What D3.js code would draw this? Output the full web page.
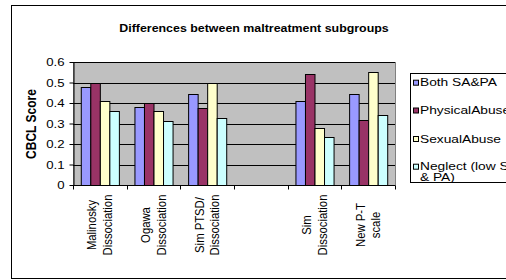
<!DOCTYPE html>
<html><head><meta charset="utf-8">
<script src="https://cdn.jsdelivr.net/npm/d3@7"></script>
<style>body{margin:0;background:#fff}svg{display:block}</style>
</head><body><svg id="c" width="506" height="280"></svg>
<script>
const categories = [["Malinosky","Dissociation"],["Ogawa","Dissociation"],["Sim PTSD/","Dissociation"],[],["Sim","Dissociation"],["New P-T","scale"]];
const catKeys = ["c0","c1","c2","c3","c4","c5"];
const seriesNames = ["Both SA&PA","PhysicalAbuse","SexualAbuse","Neglect (low SA & PA)"];
const bothSAPA = [0.477, 0.382, 0.444, null, 0.41, 0.444];
const physicalAbuse = [0.50, 0.40, 0.377, null, 0.541, 0.316];
const sexualAbuse = [0.408, 0.36, 0.499, null, 0.276, 0.55];
const neglect = [0.361, 0.31, 0.327, null, 0.233, 0.34];
const yTicks = [0, 0.1, 0.2, 0.3, 0.4, 0.5, 0.6];
const colors = ["#9999ff","#993366","#ffffcc","#ccffff"];
const series = [bothSAPA, physicalAbuse, sexualAbuse, neglect];

const svg = d3.select("#c");
const font = "'Liberation Sans', Arial, sans-serif";
const SX = 1.2;
svg.append("rect").attr("x",11.5).attr("y",5.5).attr("width",520).attr("height",273).attr("fill","#fff").attr("stroke","#000");

const L=73, R=395, T=62, B=185;
const x = d3.scaleBand().domain(catKeys).range([L,R]).paddingInner(0.29).paddingOuter(0.145);
const xs = d3.scaleBand().domain(d3.range(4)).range([0,x.bandwidth()]);
const y = d3.scaleLinear().domain([0,0.6]).range([B,T]);

svg.append("rect").attr("x",L+0.5).attr("y",T+0.5).attr("width",R-L).attr("height",B-T).attr("fill","#c0c0c0").attr("stroke","#808080");
svg.append("g").selectAll("line").data(yTicks.slice(1)).join("line")
  .attr("x1",L).attr("x2",R).attr("y1",d=>Math.round(y(d))+0.5).attr("y2",d=>Math.round(y(d))+0.5).attr("stroke","#000");

series.forEach((s,i)=>{
  svg.append("g").selectAll("rect").data(s.map((v,j)=>({v,k:catKeys[j]})).filter(d=>d.v!=null)).join("rect")
    .attr("x",d=>x(d.k)+xs(i)+0.5).attr("y",d=>Math.round(y(d.v))+0.5)
    .attr("width",xs.bandwidth()).attr("height",d=>B-Math.round(y(d.v)))
    .attr("fill",colors[i]).attr("stroke","#000").attr("stroke-width",1);
});

// y axis
const ya = svg.append("g").attr("transform",`translate(${L+0.5},0)`)
  .call(d3.axisLeft(y).tickValues(yTicks).tickFormat(d=>d===0?"0":d3.format(".1f")(d)).tickSize(4).tickSizeOuter(0));
ya.selectAll("text").attr("font-family",font).attr("font-size",11).attr("fill","#000")
  .attr("x",-9/SX).attr("transform",`scale(${SX},1)`);
ya.selectAll("path,line").attr("stroke","#000");

// x axis
const xBand = d3.scaleBand().domain(catKeys).range([L,R]);
const xa = svg.append("g").attr("transform",`translate(0,${B+0.5})`);
xa.append("line").attr("x1",L).attr("x2",R).attr("stroke","#000");
xa.selectAll("line.t").data(catKeys.concat(["end"])).join("line").attr("class","t")
  .attr("x1",d=>d==="end"?R+0.5:Math.round(xBand(d))+0.5).attr("x2",d=>d==="end"?R+0.5:Math.round(xBand(d))+0.5).attr("y1",0).attr("y2",4).attr("stroke","#000");

categories.forEach((lines,j)=>{
  const cx = xBand(catKeys[j]) + xBand.bandwidth()/2;
  const n = lines.length;
  lines.forEach((t,li)=>{
    const off = (li-(n-1)/2)*15.5;
    svg.append("text").attr("transform",`translate(${cx+off},225) scale(${SX},1) rotate(-90)`)
      .attr("text-anchor","middle").attr("dominant-baseline","central")
      .attr("font-family",font).attr("font-size",11.3).text(t);
  });
});

// title
svg.append("text").attr("transform","translate(254,32) scale(1.08,1)").attr("text-anchor","middle").attr("font-family",font)
  .attr("font-size",11.5).attr("font-weight","bold").text("Differences between maltreatment subgroups");
// y label
svg.append("text").attr("transform",`translate(36,124) scale(${SX},1) rotate(-90)`).attr("text-anchor","middle")
  .attr("font-family",font).attr("font-size",12).attr("font-weight","bold").text("CBCL Score");

// legend
svg.append("rect").attr("x",410.5).attr("y",73.5).attr("width",120).attr("height",109).attr("fill","#fff").attr("stroke","#000");
const legY = [82.7,110.5,139,166.7];
const legLines = [["Both SA&PA"],["PhysicalAbuse"],["SexualAbuse"],["Neglect (low SA","& PA)"]];
seriesNames.forEach((nm,i)=>{
  svg.append("rect").attr("x",413.5).attr("y",legY[i]-2.5).attr("width",5).attr("height",5).attr("fill",colors[i]).attr("stroke","#000");
  legLines[i].forEach((t,li)=>{
    svg.append("text").attr("transform",`translate(420,${legY[i]+li*10.5}) scale(1.25,1)`).attr("dominant-baseline","central")
      .attr("font-family",font).attr("font-size",11).text(t);
  });
});
</script></body></html>
